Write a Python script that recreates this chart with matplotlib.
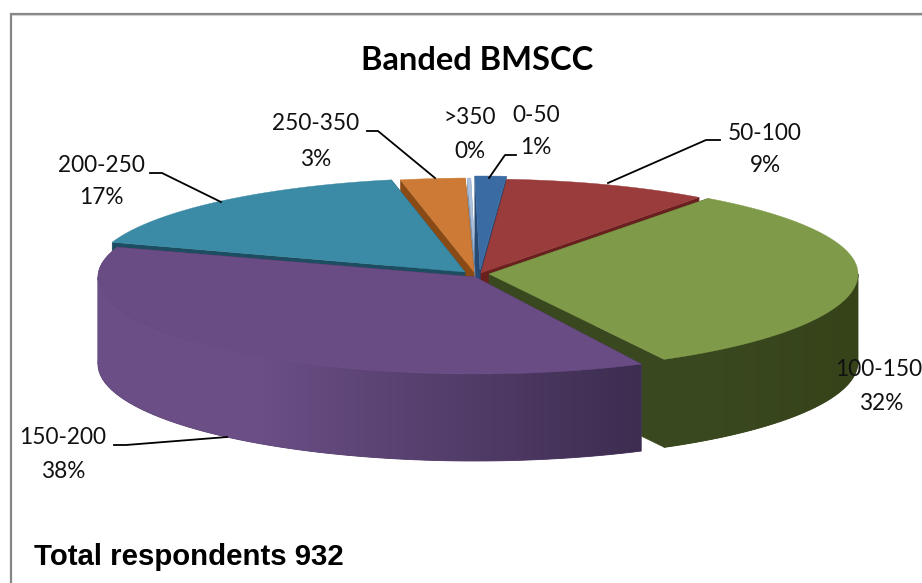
import numpy as np
import matplotlib
matplotlib.use("Agg")
import matplotlib.pyplot as plt
from matplotlib.colors import to_rgb
from matplotlib.patches import Polygon

# ---- data ----
categories = ["0-50", "50-100", "100-150", "150-200", "200-250", "250-350", ">350"]
shares = [1.35, 9.0, 32.0, 38.0, 16.7, 2.8, 0.15]
title = "Banded BMSCC"
note = "Total respondents 932"

# ---- styles (same order as categories) ----
top_colors = ["#3b6ba3", "#9a3c3b", "#7f9a48", "#6a4c85", "#3b8aa6", "#cc7a35", "#a9bfdc"]
wall_colors = ["#274a75", "#6b2020", "#3a4820", "#3f2e55", "#1d4d60", "#8a4a15", "#7f93ad"]
arc_left_colors = ["#2f5a8c", "#7d2c2c", "#3a4820", "#6a4e85", "#2a6e85", "#a05f25", "#8fa5c0"]
arc_right_colors = ["#2f5a8c", "#7d2c2c", "#364319", "#3d2d50", "#2a6e85", "#a05f25", "#8fa5c0"]
apex_x = [480, 481, 489, 475, 465, 474, 476]
apex_y = [270, 273, 274, 277, 272, 272, 272]
radius_x = [372, 367, 369, 377, 372, 372, 372]
depth = [86, 86, 88, 87, 86, 86, 86]
start_trim = [0, 0, 0, 2.2, 0, 0, 0]   # foreshortening of the slice's leading edge
draw_order = [6, 5, 0, 4, 1, 2, 3]
RY_BACK, RY_FRONT = 94, 97
START = -0.8

fig = plt.figure(figsize=(9.22, 5.83), dpi=100)
ax = fig.add_axes([0, 0, 1, 1])
ax.axis("off")

# frame (open on right and bottom, as in the source)
ax.plot([10.5, 10.5, 922], [583, 13.5, 13.5], color="#868686", lw=1.6, solid_joinstyle="miter", zorder=1)
ax.plot([12, 922], [15, 15], color="#d0d0d0", lw=0.8, zorder=1)

edges = START + np.concatenate([[0], np.cumsum(shares)]) * 3.6


def rim(i, deg):
    a = np.radians(deg)
    ry = np.where(np.cos(a) > 0, RY_BACK, RY_FRONT)
    return apex_x[i] + radius_x[i] * np.sin(a), apex_y[i] - ry * np.cos(a)


z = 2
for i in draw_order:
    a0, a1 = edges[i] + start_trim[i], edges[i + 1]
    d = depth[i]
    deg = np.linspace(a0, a1, max(int((a1 - a0) * 2), 3))
    xs, ys = rim(i, deg)
    # radial walls
    for e in (a0, a1):
        ex, ey = rim(i, e)
        ax.fill([apex_x[i], ex, ex, apex_x[i]],
                [apex_y[i], ey, ey + d, apex_y[i] + d],
                color=wall_colors[i], lw=0.3, zorder=z)
    z += 1
    # outer wall on the visible (front) half, shaded from left to right
    c0, c1 = np.array(to_rgb(arc_left_colors[i])), np.array(to_rgb(arc_right_colors[i]))
    lo, hi = max(a0, 90), min(a1, 270)
    if hi > lo:
        wall_deg = np.linspace(lo, hi, int(hi - lo) * 2 + 2)
        wx, wy = rim(i, wall_deg)
        gx0 = wx.min() + 0.3 * (wx.max() - wx.min())
        t = np.linspace(0, 1, 256)[None, :, None]
        grad = c0[None, None, :] * (1 - t) + c1[None, None, :] * t
        # flat colour underlay keeps an anti-aliased edge round the gradient
        outline = np.c_[np.r_[wx, wx[::-1]], np.r_[wy, wy[::-1] + d]]
        ax.fill(outline[:, 0], outline[:, 1], color=tuple((c0 + c1) / 2), lw=0.6, zorder=z)
        z += 1
        ax.fill(outline[:, 0], outline[:, 1], color=tuple(c0), lw=0, zorder=z, alpha=0)
        im = ax.imshow(grad, extent=(gx0, wx.max(), wy.max() + d + 3, wy.min() - 3),
                       aspect="auto", interpolation="bilinear", zorder=z)
        im.set_clip_path(Polygon(outline, closed=True, transform=ax.transData))
        if wx.min() < gx0:
            left = Polygon(outline, closed=True, transform=ax.transData)
            im2 = ax.imshow(np.tile(c0[None, None, :], (2, 2, 1)),
                            extent=(wx.min() - 1, gx0 + 1, wy.max() + d + 3, wy.min() - 3),
                            aspect="auto", zorder=z)
            im2.set_clip_path(left)
    z += 1
    # left bulge of the cylinder past the 270 degree mark
    if a0 < 270 < a1:
        back = np.linspace(270, a1, 40)
        bx, by = rim(i, back)
        ax.fill(np.r_[bx, bx[::-1]], np.r_[by, by[::-1] + d],
                color=arc_left_colors[i], lw=0.5, zorder=z)
    z += 1
    ax.fill(np.r_[apex_x[i], xs], np.r_[apex_y[i], ys], color=top_colors[i], lw=0.3, zorder=z)
    z += 1

# labels: (name line centre, percent line centre) and leader polylines
label_pos = {
    "0-50": ((536, 115), (536, 147)),
    "50-100": ((765, 134), (765, 165)),
    "100-150": ((879, 370), (881, 403)),
    "150-200": ((63, 437), (63, 471)),
    "200-250": ((101, 165), (101, 198)),
    "250-350": ((316, 124), (316, 159)),
    ">350": ((470, 117), (470, 151)),
}
leaders = {
    "0-50": ([516, 505, 489], [155, 155, 178]),
    "50-100": ([720, 706, 608], [140, 140, 183]),
    "150-200": ([114, 126, 227], [445, 445, 437]),
    "200-250": ([150, 162, 221], [173, 173, 202]),
    "250-350": ([367, 378, 435], [131, 131, 178]),
}
for name, share in zip(categories, shares):
    (x1, y1), (x2, y2) = label_pos[name]
    ax.text(x1, y1, name, fontsize=16.3, family="Lato", ha="center", va="center", color="#111111", zorder=100)
    ax.text(x2, y2, f"{share:.0f}%", fontsize=16.3, family="Lato", ha="center", va="center", color="#111111", zorder=100)
    if name in leaders:
        ax.plot(*leaders[name], color="black", lw=1.3, zorder=99)

ax.text(477.5, 60, title, fontsize=23.5, family="Lato", weight="bold", ha="center", va="center", color="black", zorder=100)
ax.text(34, 557, note, fontsize=21.2, family="Liberation Sans", weight="bold", ha="left", va="center", color="black", zorder=100)

ax.set_xlim(0, 922)
ax.set_ylim(583, 0)
fig.savefig("out.png", dpi=100, facecolor="white")
